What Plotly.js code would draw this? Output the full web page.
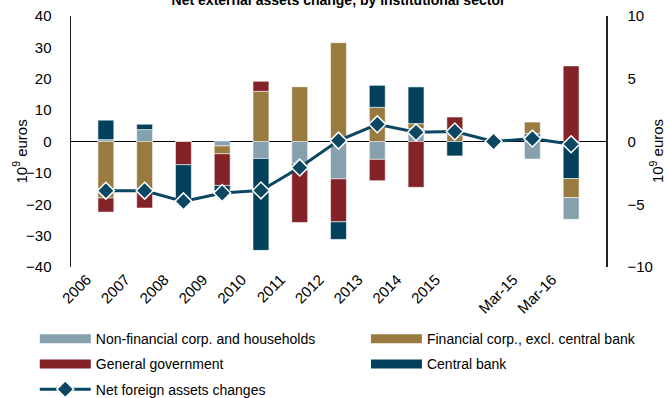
<!DOCTYPE html>
<html>
<head>
<meta charset="utf-8">
<script src="https://cdn.plot.ly/plotly-3.0.1.min.js"></script>
<style>html,body{margin:0;padding:0;background:#fff}#chart{width:669px;height:398px}</style>
</head>
<body>
<div id="chart"></div>
<script>
// Categories
var categories = ['2006','2007','2008','2009','2010','2011','2012','2013','2014','2015',' ','Mar-15','Mar-16'];
var annualCats = ['2006','2007','2008','2009','2010','2011','2012','2013','2014','2015'];
var quarterCats = ['Mar-15','Mar-16'];

// Annual values (10^9 euros, left axis)
var nonFinAnnual = [0.6, 3.8, 0, -1.4, -5.4, -7.0, -11.9, -5.7, 4.1, 0];
var finAnnual    = [-18.0, -16.1, 0, -2.5, 16.0, 17.5, 31.5, 10.9, 1.6, 2.2];
var govAnnual    = [-4.5, -5.1, -7.4, -10.1, 3.2, -18.8, -13.7, -6.8, -14.6, 5.6];
var cbAnnual     = [6.2, 1.7, -11.9, -2.4, -29.3, 0, -5.6, 7.0, 11.7, -4.6];

// Quarterly values (10^9 euros, left axis)
var cbQuarter     = [2.5, -11.8];
var govQuarter    = [0, 24.1];
var finQuarter    = [3.7, -6.1];
var nonFinQuarter = [-5.6, -6.9];

// Net foreign assets changes (right axis)
var netChanges = [-3.92, -3.92, -4.77, -4.1, -3.9, -2.08, 0.07, 1.37, 0.73, 0.8, 0, 0.23, -0.22];

var names = ['Non-financial corp. and households', 'Financial corp., excl. central bank', 'General government', 'Central bank', 'Net foreign assets changes'];
var colors = ['#87A0AE', '#9A7B3F', '#832328', '#02405C', '#0B4762'];
var legendOf = ['legend', 'legend2', 'legend', 'legend2', 'legend'];
var axisUnit = '10<sup>9</sup> euros';

var FONT = '"Liberation Sans", Arial, sans-serif';
var edge = {color: 'rgba(255,255,255,0.7)', width: 0.8};

function bar(x, y, idx) {
  return {type: 'bar', x: x, y: y, name: names[idx], legendgroup: 'g' + idx, showlegend: false,
          marker: {color: colors[idx], line: edge}, hoverinfo: 'x+y+name'};
}

var traces = [
  bar(annualCats, nonFinAnnual, 0),
  bar(annualCats, finAnnual, 1),
  bar(annualCats, govAnnual, 2),
  bar(annualCats, cbAnnual, 3),
  bar(quarterCats, cbQuarter, 3),
  bar(quarterCats, govQuarter, 2),
  bar(quarterCats, finQuarter, 1),
  bar(quarterCats, nonFinQuarter, 0)
];

// legend swatches for the bar series
[0, 1, 2, 3].forEach(function (i) {
  traces.push({type: 'scatter', mode: 'lines', x: [null], y: [null], name: names[i], legendgroup: 'g' + i,
               legend: legendOf[i], line: {color: colors[i], width: 9}, hoverinfo: 'skip'});
});

traces.push({
  type: 'scatter', mode: 'lines+markers', x: categories, y: netChanges, yaxis: 'y2', name: names[4],
  legendgroup: 'g4', legend: 'legend',
  line: {color: colors[4], width: 3},
  marker: {symbol: 'diamond', size: 13, color: colors[4], line: {color: '#ffffff', width: 1.5}}
});

var legendBase = {orientation: 'v', xref: 'container', yref: 'container', y: 0.188, xanchor: 'left', yanchor: 'top',
                  itemwidth: 51, traceorder: 'grouped', tracegroupgap: 4,
                  font: {family: FONT, size: 14, color: '#000'}, bgcolor: 'rgba(0,0,0,0)'};

var layout = {
  width: 669, height: 398,
  margin: {l: 71, r: 63, t: 16, b: 131, autoexpand: false},
  paper_bgcolor: '#fff', plot_bgcolor: '#fff',
  barmode: 'relative', bargap: 0.59,
  font: {family: FONT, size: 15, color: '#000'},
  showlegend: true,
  title: {text: '<b>Net external assets change, by institutional sector</b>', font: {family: FONT, size: 14, color: '#000'},
          x: 0.5, xref: 'paper', xanchor: 'center', y: 1, yref: 'container', yanchor: 'middle'},
  xaxis: {type: 'category', categoryorder: 'array', categoryarray: categories, tickangle: -45,
          showline: false, showgrid: false, zeroline: false, ticks: '',
          ticklabelshift: -19, tickfont: {family: FONT, size: 15}},
  yaxis: {range: [-40, 40], dtick: 10, showgrid: false, zeroline: true, zerolinecolor: '#000', zerolinewidth: 1.5,
          showline: true, linecolor: '#222', linewidth: 1.5, ticks: 'outside', ticklen: 15, tickcolor: 'rgba(0,0,0,0)',
          tickfont: {family: FONT, size: 15}},
  yaxis2: {range: [-10, 10], dtick: 5, overlaying: 'y', side: 'right', showgrid: false, zeroline: false,
           showline: true, linecolor: '#222', linewidth: 1.5, ticks: 'outside', ticklen: 17, tickcolor: 'rgba(0,0,0,0)',
           tickfont: {family: FONT, size: 15}},
  annotations: [
    {text: axisUnit, textangle: -90, xref: 'paper', yref: 'paper', x: -0.0953, y: 0.46, xanchor: 'center', yanchor: 'middle',
     showarrow: false, font: {family: FONT, size: 15, color: '#000'}},
    {text: axisUnit, textangle: -90, xref: 'paper', yref: 'paper', x: 1.0945, y: 0.46, xanchor: 'center', yanchor: 'middle',
     showarrow: false, font: {family: FONT, size: 15, color: '#000'}}
  ],
  legend: Object.assign({}, legendBase, {x: 0.052}),
  legend2: Object.assign({}, legendBase, {x: 0.547})
};

Plotly.newPlot('chart', traces, layout, {displayModeBar: false, staticPlot: true});
</script>
</body>
</html>
